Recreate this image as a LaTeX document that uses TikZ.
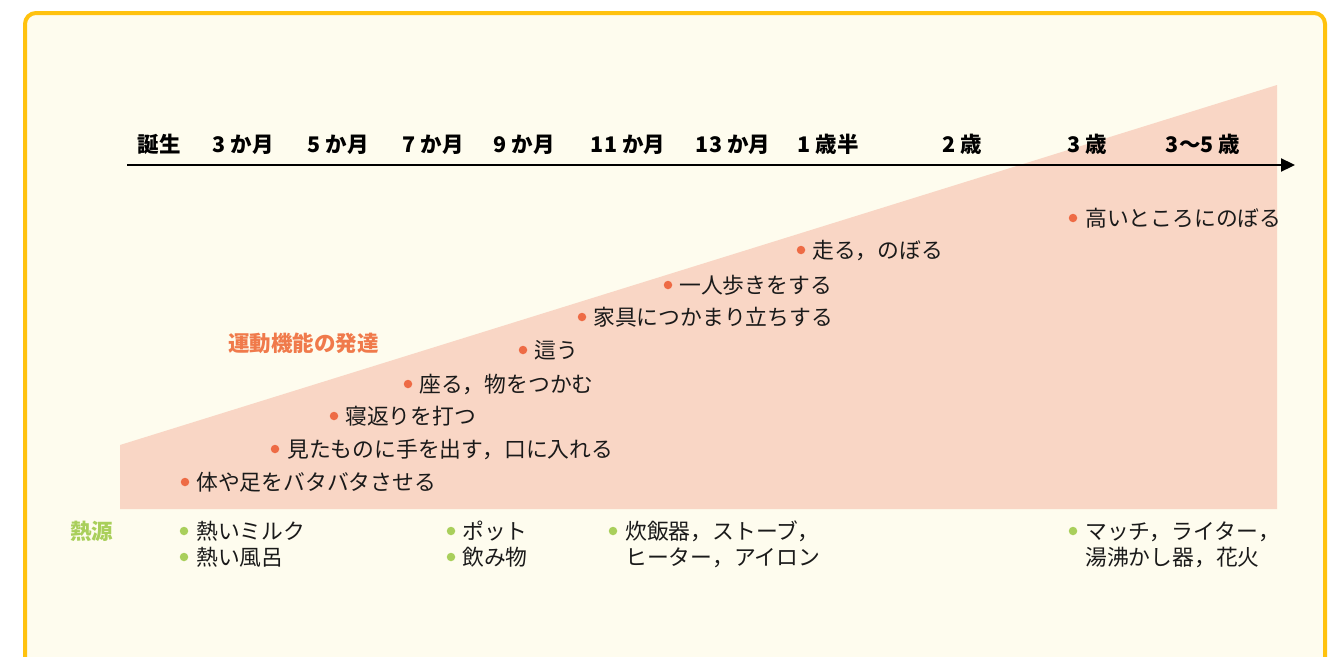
\documentclass[tikz,border=0pt]{standalone}
\usepackage{fontspec}
\setmainfont{Noto Sans CJK JP}
\usetikzlibrary{arrows.meta}
\definecolor{bgc}{HTML}{FEFCEE}
\definecolor{framec}{HTML}{FFC20E}
\definecolor{tric}{HTML}{F9D6C5}
\definecolor{orc}{HTML}{EE6B45}
\definecolor{ortxt}{HTML}{F07A4B}
\definecolor{grc}{HTML}{A9CF5B}
\definecolor{txc}{HTML}{1A1A1A}
\tikzset{
  agelabel/.style={anchor=base, inner sep=0pt, font=\fontsize{21.5}{22}\selectfont\bfseries, text=black},
  itemtext/.style={anchor=base west, inner sep=0pt, font=\fontsize{21.8}{26}\selectfont, text=txc},
  odot/.style={circle, fill=orc, inner sep=0pt, minimum size=8.5pt},
  gdot/.style={circle, fill=grc, inner sep=0pt, minimum size=8.5pt},
  headtext/.style={anchor=base west, inner sep=0pt, font=\fontsize{21.5}{26}\selectfont\bfseries},
}
\begin{document}
\begin{tikzpicture}[x=1pt,y=-1pt]
\useasboundingbox (0,0) rectangle (1335,656);
\clip (0,0) rectangle (1335,656);
\fill[white] (0,0) rectangle (1335,656);
\draw[line width=4pt, draw=framec, fill=bgc, rounded corners=11pt] (25,13) rectangle (1325,720);
\fill[tric] (120,509) -- (120,445) -- (1277,85) -- (1277,509) -- cycle;
% axis
\coordinate (axs) at (127,165);
\coordinate (axe) at (1295,165);
\draw[line width=2.2pt, -{Triangle[length=14pt,width=13pt]}] (axs) -- (axe);
% age labels
\node[agelabel] (a0) at (159,152) {誕生};
\node[agelabel] (a1) at (243,152) {3 か月};
\node[agelabel] (a2) at (338,152) {5 か月};
\node[agelabel] (a3) at (433,152) {7 か月};
\node[agelabel] (a4) at (524,152) {9 か月};
\node[agelabel] (a5) at (628,152) {11 か月};
\node[agelabel] (a6) at (733,152) {13 か月};
\node[agelabel] (a7) at (828,152) {1 歳半};
\node[agelabel] (a8) at (962,152) {2 歳};
\node[agelabel] (a9) at (1087,152) {3 歳};
\node[agelabel] (a10) at (1203,152) {3〜5 歳};
% heading
\node[headtext, text=ortxt] (motor) at (228,351) {運動機能の発達};
\node[headtext, text=grc] (heat) at (70,539) {熱源};
% motor items
\node[odot] (m1d) at (185,482) {};
\node[itemtext] (m1) at (196,490) {体や足をバタバタさせる};
\node[odot] (m2d) at (275,449) {};
\node[itemtext] (m2) at (287,457) {見たものに手を出す，口に入れる};
\node[odot] (m3d) at (334,416) {};
\node[itemtext] (m3) at (345,424) {寝返りを打つ};
\node[odot] (m4d) at (408,384) {};
\node[itemtext] (m4) at (419,392) {座る，物をつかむ};
\node[odot] (m5d) at (523,350) {};
\node[itemtext] (m5) at (534,358) {這う};
\node[odot] (m6d) at (582,317) {};
\node[itemtext] (m6) at (593,325) {家具につかまり立ちする};
\node[odot] (m7d) at (668,285) {};
\node[itemtext] (m7) at (679,293) {一人歩きをする};
\node[odot] (m8d) at (801,250) {};
\node[itemtext] (m8) at (812,258) {走る，のぼる};
\node[odot] (m9d) at (1073,218) {};
\node[itemtext] (m9) at (1085,226) {高いところにのぼる};
% heat sources
\node[gdot] (h1d) at (184,531) {};
\node[itemtext] (h1) at (196,539) {熱いミルク};
\node[gdot] (h2d) at (184,557) {};
\node[itemtext] (h2) at (196,565) {熱い風呂};
\node[gdot] (h3d) at (451,531) {};
\node[itemtext] (h3) at (462,539) {ポット};
\node[gdot] (h4d) at (451,557) {};
\node[itemtext] (h4) at (462,565) {飲み物};
\node[gdot] (h5d) at (613,531) {};
\node[itemtext] (h5) at (625,539) {炊飯器，ストーブ，};
\node[itemtext] (h5b) at (625,565) {ヒーター，アイロン};
\node[gdot] (h6d) at (1073,531) {};
\node[itemtext] (h6) at (1085,539) {マッチ，ライター，};
\node[itemtext] (h6b) at (1085,565) {湯沸かし器，花火};
\end{tikzpicture}
\end{document}
